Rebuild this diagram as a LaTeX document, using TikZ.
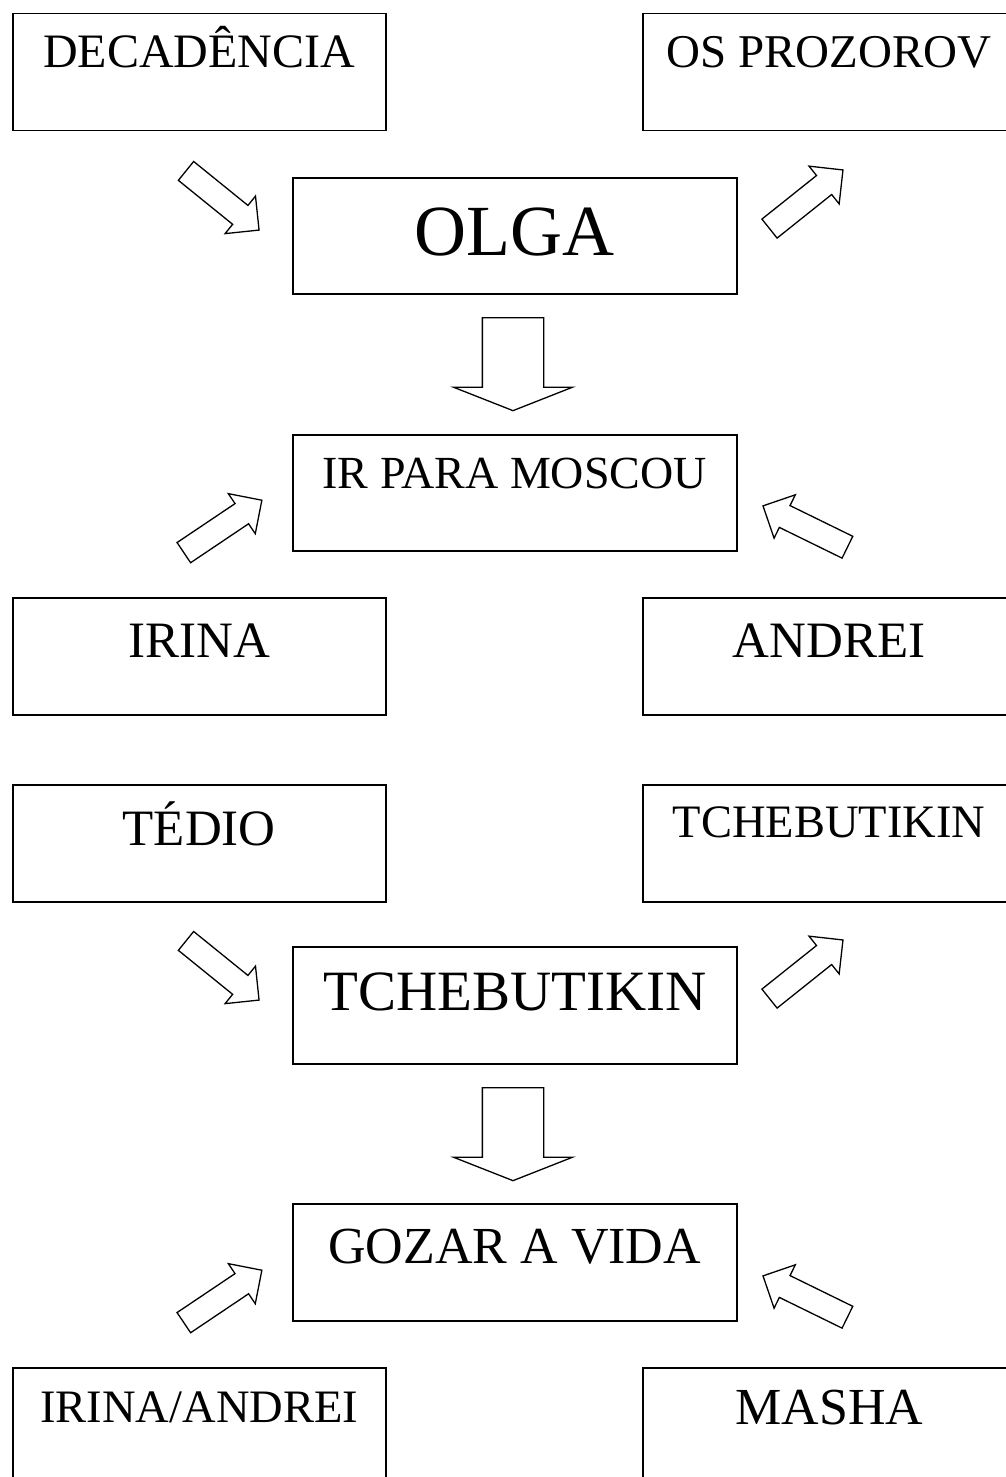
\documentclass[tikz,border=0pt]{standalone}
\usepackage{fontspec}
\setmainfont{Liberation Serif}
\usetikzlibrary{shapes.arrows}

\tikzset{
	textbox/.style={draw, line width=1.5pt, inner sep=0pt, anchor=north west, minimum height=117pt},
	sidebox/.style={textbox, minimum width=373pt},
	midbox/.style={textbox, minimum width=444pt},
	fatarrow/.style={single arrow, draw, line width=1.3pt, inner xsep=0pt, inner ysep=11.5pt, anchor=tail,
		minimum width=47pt, single arrow head extend=12pt, minimum height=94pt},
	downarrow/.style={single arrow, draw, line width=1.3pt, inner xsep=0pt, inner ysep=30pt, anchor=tail, rotate=-90,
		minimum width=118pt, single arrow head extend=29pt, single arrow tip angle=137, minimum height=93pt}
}

\begin{document}
\begin{tikzpicture}[x=1pt, y=-1pt]
	\newcommand{\boxfont}[2]{
		\fontsize{#1}{#1}\selectfont{#2}
	}%Page frame
	\useasboundingbox (0,0) rectangle (1005,1477);
	%Upper block
	\coordinate (cDec) at (12,13);
	\coordinate (cProz) at (642,13);
	\coordinate (cOlga) at (292,177);
	\coordinate (cMoscou) at (292,434);
	\coordinate (cIrina) at (12,597);
	\coordinate (cAndrei) at (642,597);
	\node [sidebox, text height=54pt, text depth=63pt] (dec) at (cDec) {\boxfont{48}{DECADÊNCIA}};
	\node [sidebox, text height=54pt, text depth=63pt] (proz) at (cProz) {\boxfont{47}{OS PROZOROV}};
	\node [midbox, minimum height=116pt, text height=78pt, text depth=38pt] (olga) at (cOlga) {\boxfont{72}{OLGA}};
	\node [midbox, minimum height=116pt, text height=54pt, text depth=62pt] (moscou) at (cMoscou) {\boxfont{46}{IR PARA MOSCOU}};
	\node [sidebox, text height=60pt, text depth=57pt] (irina) at (cIrina) {\boxfont{51}{IRINA}};
	\node [sidebox, text height=60pt, text depth=57pt] (andrei) at (cAndrei) {\boxfont{51}{ANDREI}};
	%Lower block
	\coordinate (cTedio) at (12,784);
	\coordinate (cTchebR) at (642,784);
	\coordinate (cTcheb) at (292,946);
	\coordinate (cGozar) at (292,1203);
	\coordinate (cIrAn) at (12,1367);
	\coordinate (cMasha) at (642,1367);
	\node [sidebox, text height=61pt, text depth=56pt] (tedio) at (cTedio) {\boxfont{51}{TÉDIO}};
	\node [sidebox, text height=53pt, text depth=64pt] (tchebR) at (cTchebR) {\boxfont{46.5}{TCHEBUTIKIN}};
	\node [midbox, text height=64pt, text depth=53pt] (tcheb) at (cTcheb) {\boxfont{57}{TCHEBUTIKIN}};
	\node [midbox, text height=60pt, text depth=57pt] (gozar) at (cGozar) {\boxfont{52}{GOZAR A VIDA}};
	\node [sidebox, minimum height=130pt, text height=55pt, text depth=75pt] (irAn) at (cIrAn) {\boxfont{46.5}{IRINA/ANDREI}};
	\node [sidebox, minimum height=130pt, text height=57pt, text depth=73pt] (masha) at (cMasha) {\boxfont{52}{MASHA}};
	%Block arrows, same in both blocks
	\foreach \k/\dy in {1/0, 2/770} {
		\node [fatarrow, rotate=-39] (inA\k) at (185.5,170.5+\dy) {};
		\node [fatarrow, rotate=38.6] (outA\k) at (769,229+\dy) {};
		\node [downarrow] (downA\k) at (513,317+\dy) {};
		\node [fatarrow, rotate=33.9] (leftA\k) at (183.3,553+\dy) {};
		\node [fatarrow, rotate=153.9] (rightA\k) at (848,547.5+\dy) {};
	}
\end{tikzpicture}
\end{document}
